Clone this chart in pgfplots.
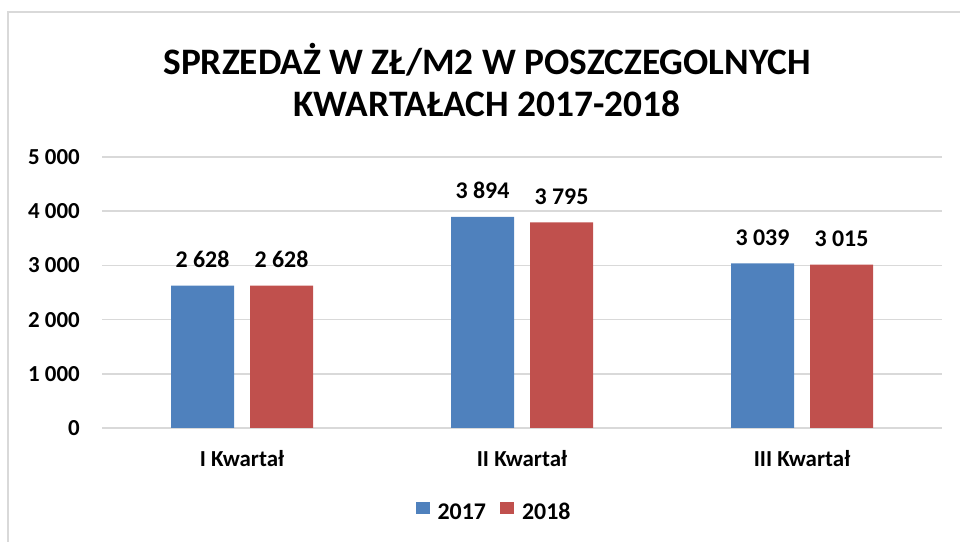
\documentclass[border=0pt]{standalone}
\usepackage{fontspec}
\setmainfont{Carlito}
\usepackage{pgfplots}
\pgfplotsset{compat=1.18}
\definecolor{blu}{HTML}{4F81BD}
\definecolor{rd}{HTML}{C0504D}
\definecolor{grd}{HTML}{D9D9D9}
\begin{document}
\begin{tikzpicture}[x=1bp,y=1bp]
\path[use as bounding box] (0,0) rectangle (960,542);
\draw[grd, line width=1.5bp] (8,0) -- (8,530) -- (960,530);
\node[font=\fontsize{37.5}{43}\selectfont\bfseries, align=center] at (487,462) {SPRZEDAŻ W ZŁ/M2 W POSZCZEGOLNYCH\\KWARTAŁACH 2017-2018};
\begin{axis}[
  at={(102bp,114bp)}, anchor=south west, scale only axis,
  width=840bp, height=271bp,
  xmin=-0.5, xmax=2.5, ymin=0, ymax=5000,
  ybar=16bp, bar width=63bp,
  axis line style={draw=none}, major tick length=0pt,
  ymajorgrids, grid style={grd, line width=1.5bp},
  xtick={0,1,2}, xticklabels={I Kwartał, II Kwartał, III Kwartał},
  ytick={0,1000,2000,3000,4000,5000},
  /pgf/number format/assume math mode=true,
  /pgf/number format/1000 sep={\ },
  tick label style={font=\fontsize{23}{23}\selectfont\bfseries},
  yticklabel style={anchor=east, inner sep=0pt, xshift=-22bp},
  xticklabel style={anchor=base, inner sep=0pt, yshift=-39bp},
  nodes near coords,
  every node near coord/.append style={font=\fontsize{24}{24}\selectfont\bfseries, anchor=base, inner sep=0pt, yshift=18bp},
  legend style={at={(0.4667,-0.310)}, anchor=center, draw=none, legend columns=2,
    font=\fontsize{24}{24}\selectfont\bfseries,
    /tikz/every odd column/.append style={column sep=6bp},
    /tikz/every even column/.append style={column sep=12bp}},
  legend image code/.code={\fill[#1] (0bp,-2bp) rectangle (14bp,10bp);},
]
\addplot[fill=blu, draw=none] coordinates {(0,2628) (1,3894) (2,3039)};
\addplot[fill=rd, draw=none] coordinates {(0,2628) (1,3795) (2,3015)};
\legend{2017,2018}
\end{axis}
\end{tikzpicture}
\end{document}
